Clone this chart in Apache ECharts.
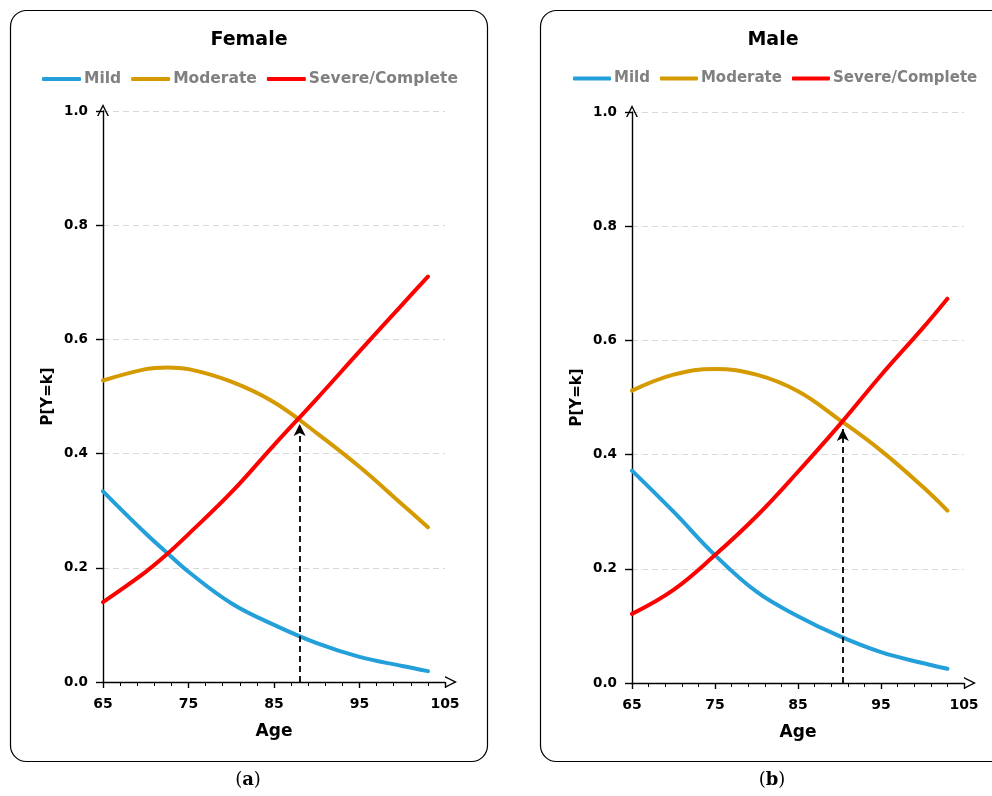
<!DOCTYPE html>
<html><head><meta charset="utf-8">
<script src="https://cdn.jsdelivr.net/npm/echarts@6/dist/echarts.min.js"></script>
<style>html,body{margin:0;padding:0;background:#fff;}#c{width:992px;height:796px;}</style>
</head><body><div id="c"></div>
<script>
// ---- data ----
const panelTitles = ['Female', 'Male'];
const panelTags = ['a', 'b'];
const seriesNames = ['Mild', 'Moderate', 'Severe/Complete'];
const seriesColors = ['#239FDA', '#D49A00', '#FF0000'];

const agesF = [65, 70, 72.5, 75, 80, 85, 90, 95, 100, 103];
const mildF = [0.334, 0.260, 0.226, 0.193, 0.138, 0.100, 0.068, 0.044, 0.028, 0.019];
const moderateF = [0.528, 0.548, 0.551, 0.548, 0.526, 0.490, 0.436, 0.377, 0.311, 0.271];
const severeF = [0.140, 0.193, 0.224, 0.259, 0.332, 0.415, 0.496, 0.579, 0.661, 0.710];

const agesM = [65, 70, 75, 80, 85, 90, 95, 100, 103];
const mildM = [0.372, 0.300, 0.224, 0.160, 0.117, 0.082, 0.054, 0.035, 0.025];
const moderateM = [0.512, 0.540, 0.550, 0.540, 0.511, 0.461, 0.407, 0.344, 0.302];
const severeM = [0.121, 0.163, 0.224, 0.292, 0.370, 0.452, 0.539, 0.621, 0.673];

// dashed drop line: [age, arrow tip value]
const dropF = [88, 0.452];
const dropM = [90.4, 0.445];

const xMin = 65, xMax = 105, xStep = 10;
const yMin = 0, yMax = 1, yStep = 0.2;

// ---- chart ----
const FONT = 'DejaVu Sans';
const pairs = (xs, ys) => xs.map((x, i) => [x, ys[i]]);
const panels = [
  { ages: agesF, vals: [mildF, moderateF, severeF], drop: dropF },
  { ages: agesM, vals: [mildM, moderateM, severeM], drop: dropM }
];
const grids = [
  { left: 103, top: 111, width: 342, height: 571 },
  { left: 632, top: 112, width: 332, height: 571 }
];
const boxes = [
  { x: 10.5, y: 10.5, width: 477, height: 751 },
  { x: 540.5, y: 10.5, width: 480, height: 751 }
];
const titleX = [244, 768];
const legendLeft = [37, 568];
const legendFont = [15.5, 15];
const legendIcon = [39, 38];
const tagX = [248, 772];

const chevron = 'path://M0,12 L6,0 L12,12 L10.5,12 L6,3 L1.5,12 Z';

const option = {
  animation: false,
  title: panelTitles.map((t, i) => ({
    text: t, left: titleX[i], top: 26, textAlign: 'center',
    textStyle: { fontFamily: FONT, fontSize: 19, fontWeight: 'bold', color: '#000' }
  })),
  legend: panelTitles.map((t, i) => ({
    data: seriesNames, left: legendLeft[i], top: 66,
    icon: 'roundRect', itemWidth: legendIcon[i], itemHeight: 4, itemGap: 10,
    textStyle: { fontFamily: FONT, fontSize: legendFont[i], fontWeight: 'bold', color: '#808080', padding: [0, 0, 0, -2] }
  })),
  grid: grids,
  xAxis: grids.map((g, i) => ({
    type: 'value', gridIndex: i, min: xMin, max: xMax, interval: xStep,
    name: 'Age', nameLocation: 'middle', nameGap: 41,
    nameTextStyle: { fontFamily: FONT, fontSize: 17, fontWeight: 'bold', color: '#000' },
    axisLine: { show: true, lineStyle: { color: '#000', width: 1.4 },
      symbol: ['none', chevron], symbolSize: [13, 12], symbolOffset: [0, 6] },
    axisTick: { show: true, length: 6, lineStyle: { color: '#000', width: 1.4 } },
    minorTick: { show: true, splitNumber: 5, length: 4, lineStyle: { color: '#000', width: 1 } },
    axisLabel: { fontFamily: FONT, fontSize: 14, fontWeight: 'bold', color: '#000', margin: 15 },
    splitLine: { show: false }
  })),
  yAxis: grids.map((g, i) => ({
    type: 'value', gridIndex: i, min: yMin, max: yMax, interval: yStep,
    name: 'P[Y=k]', nameLocation: 'middle', nameGap: 47, nameRotate: 90,
    nameTextStyle: { fontFamily: FONT, fontSize: 15, fontWeight: 'bold', color: '#000' },
    axisLine: { show: true, lineStyle: { color: '#000', width: 1.4 },
      symbol: ['none', chevron], symbolSize: [13, 12], symbolOffset: [0, 1] },
    axisTick: { show: true, length: 7, lineStyle: { color: '#000', width: 1.4 } },
    axisLabel: { fontFamily: FONT, fontSize: 13.5, fontWeight: 'bold', color: '#000', margin: 15,
      formatter: v => v.toFixed(1) },
    splitLine: { show: true, lineStyle: { color: '#D9D9D9', type: [6, 4], width: 1 } }
  })),
  series: [],
  graphic: []
};

panels.forEach((p, gi) => {
  seriesNames.forEach((n, si) => {
    const s = {
      name: n, type: 'line', xAxisIndex: gi, yAxisIndex: gi,
      data: pairs(p.ages, p.vals[si]), smooth: 0.4,
      showSymbol: false, symbol: 'none',
      lineStyle: { color: seriesColors[si], width: 4, cap: 'round' },
      itemStyle: { color: seriesColors[si] },
      z: 3 + si
    };
    if (si === 0) {
      s.markLine = {
        silent: true, symbol: ['none', 'arrow'], symbolSize: [9, 12],
        lineStyle: { color: '#000', type: [6, 4], width: 1.8 },
        label: { show: false },
        data: [[{ coord: [p.drop[0], 0] }, { coord: [p.drop[0], p.drop[1]] }]]
      };
    }
    option.series.push(s);
  });
  option.graphic.push({
    type: 'rect', shape: Object.assign({ r: 16 }, boxes[gi]),
    style: { fill: 'none', stroke: '#000', lineWidth: 1.2 }, z: 0, silent: true
  });
  option.graphic.push({
    type: 'text', x: tagX[gi], y: 780,
    style: {
      text: '{p|(}{b|' + panelTags[gi] + '}{p|)}', align: 'center', verticalAlign: 'middle',
      rich: {
        p: { fontFamily: 'DejaVu Serif', fontSize: 18, color: '#000' },
        b: { fontFamily: 'DejaVu Serif', fontSize: 18, fontWeight: 'bold', color: '#000' }
      }
    }
  });
});

const chart = echarts.init(document.getElementById('c'));
chart.setOption(option);
</script>
</body></html>
